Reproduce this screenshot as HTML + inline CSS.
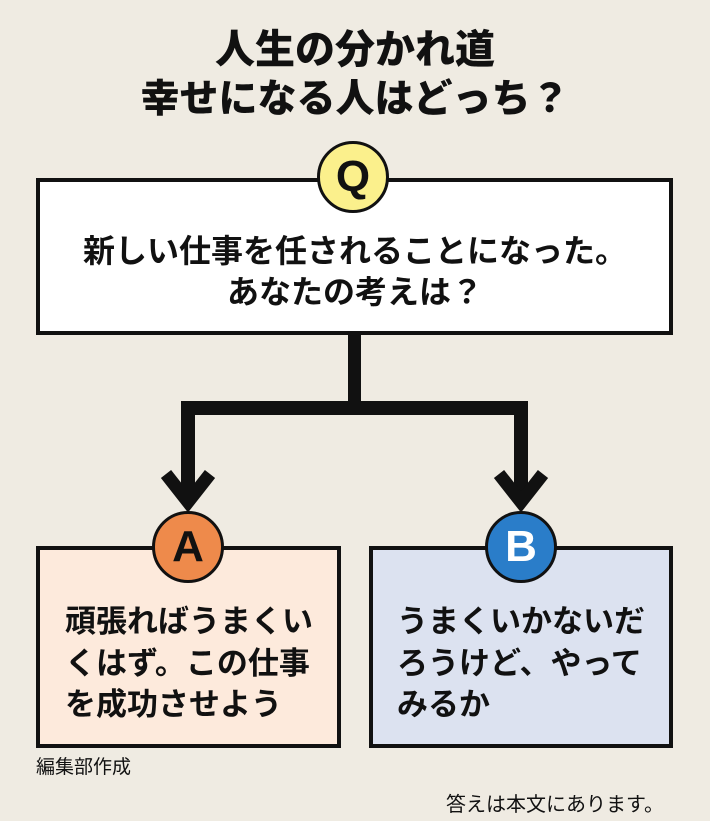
<!DOCTYPE html>
<html><head><meta charset="utf-8"><style>
*{margin:0;padding:0;box-sizing:border-box}
body{width:710px;height:821px;background:#efebe2;position:relative;overflow:hidden;font-family:"Liberation Sans","Noto Sans CJK JP",sans-serif;color:#111}
.t{position:absolute;left:0;width:710px;text-align:center;font-weight:900;white-space:nowrap}
.box{position:absolute;border:4px solid #111}
.c{position:absolute;border:3px solid #111;border-radius:50%;text-align:center;font-weight:700;font-size:44px;line-height:66px}
.bl{position:absolute;background:#111}
.txt{position:absolute;font-weight:700;font-size:31px;line-height:41.5px;white-space:nowrap}
</style></head><body>
<div class="t" style="top:26px;font-size:40px;line-height:48px">人生の分かれ道</div>
<div class="t" style="top:76px;font-size:39px;line-height:48px">幸せになる人はどっち？</div>

<div class="box" style="left:36px;top:178px;width:637px;height:157px;background:#fff"></div>
<div class="t" style="top:231px;font-size:32px;line-height:41px;font-weight:700">新しい仕事を任されることになった。<br>あなたの考えは？</div>
<div class="c" style="left:317px;top:141px;width:72px;height:72px;background:#fbf08c">Q</div>

<div class="bl" style="left:348px;top:334px;width:13px;height:76px"></div>
<div class="bl" style="left:181px;top:401px;width:347px;height:14px"></div>
<div class="bl" style="left:181px;top:401px;width:14px;height:95px"></div>
<div class="bl" style="left:514px;top:401px;width:14px;height:95px"></div>
<svg style="position:absolute;left:0;top:0" width="710" height="821">
<polyline points="166,474 188,502 210,474" fill="none" stroke="#111" stroke-width="13"/>
<polyline points="499,474 521,502 543,474" fill="none" stroke="#111" stroke-width="13"/>
</svg>

<div class="box" style="left:36px;top:546px;width:305px;height:202px;background:#fdeadc"></div>
<div class="box" style="left:369px;top:546px;width:304px;height:202px;background:#dce2f0"></div>
<div class="c" style="left:152px;top:511px;width:72px;height:72px;background:#ee8a4b">A</div>
<div class="c" style="left:485px;top:511px;width:72px;height:72px;background:#2a7dc9;color:#fff">B</div>
<div class="txt" style="left:65px;top:601px">頑張ればうまくい<br>くはず。この仕事<br>を成功させよう</div>
<div class="txt" style="left:397px;top:601px">うまくいかないだ<br>ろうけど、やって<br>みるか</div>

<div style="position:absolute;left:36px;top:756px;font-size:19px;line-height:24px">編集部作成</div>
<div style="position:absolute;left:446px;top:793px;font-size:20px;line-height:24px">答えは本文にあります。</div>
</body></html>
